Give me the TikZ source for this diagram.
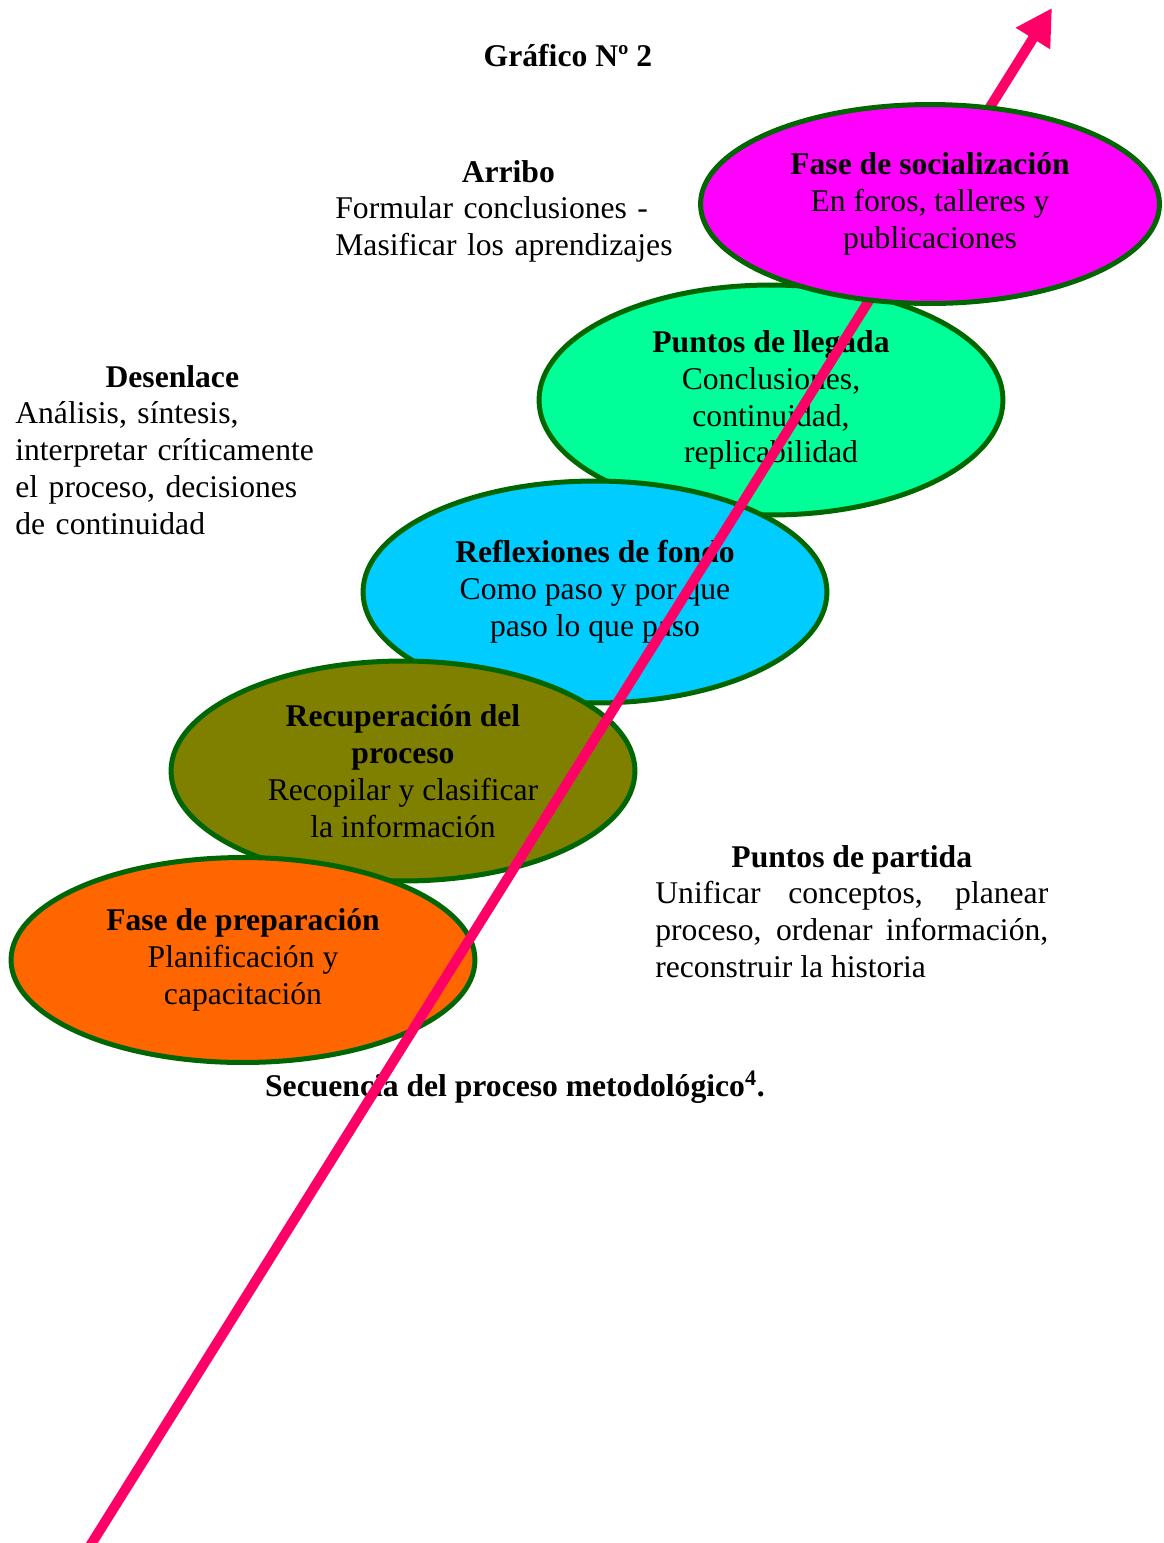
\documentclass[tikz,border=0pt]{standalone}
\usepackage{fontspec}
\setmainfont{Liberation Serif}
\usetikzlibrary{shapes.geometric,arrows.meta,positioning}
\definecolor{borde}{HTML}{006600}
\definecolor{rosa}{HTML}{FF0066}
\definecolor{fucsia}{HTML}{FF00FF}
\definecolor{menta}{HTML}{00FF99}
\definecolor{celeste}{HTML}{00CCFF}
\definecolor{oliva}{HTML}{808000}
\definecolor{naranja}{HTML}{FF6600}
\tikzset{
    fase/.style ={
        shape=ellipse,
        draw=borde,
        line width=0.1cm,
        inner sep=0pt,
        align=center,
        minimum width=9.28cm
    },
    nota/.style ={
        inner sep=0pt,
        anchor=base west,
        align=left
    },
    flecha/.style ={
        draw=rosa,
        line width=0.2cm,
        -{Triangle[length=0.72cm,width=0.76cm]}
    }
}

\begin{document}
\begin{tikzpicture}[x=0.02cm,y=-0.02cm,font=\fontsize{18}{21}\selectfont]
    \useasboundingbox (0,0) rectangle (1164,1543);
    \node[anchor=base,inner sep=0pt] (grafico) at (568,66) {\textbf{Gráfico Nº 2}};
    \node[nota,text width=6.92cm] (arribo) at (335,182)
        {{\centering\textbf{Arribo}\par}Formular conclusiones -\\Masificar los aprendizajes};
    \node[nota,text width=6.28cm] (desenlace) at (15,387)
        {{\centering\textbf{Desenlace}\par}Análisis, síntesis,\\interpretar críticamente\\el proceso, decisiones\\de continuidad};
    \node[nota,text width=7.86cm,align=justify] (partida) at (655,867)
        {{\centering\textbf{Puntos de partida}\par}Unificar conceptos, planear\linebreak proceso, ordenar información,\linebreak reconstruir la historia};
    \node[anchor=base,inner sep=0pt] (secuencia) at (515,1096)
        {\textbf{Secuencia del proceso metodológico\textsuperscript{4}.}};
    % fases, de atras hacia adelante
    \node[fase,fill=menta,minimum height=4.6cm] (llegada) at (771,400)
        {\textbf{Puntos de llegada}\\Conclusiones,\\continuidad,\\replicabilidad};
    \node[fase,fill=celeste,minimum height=4.44cm] (reflexiones) at (595,592)
        {\textbf{Reflexiones de fondo}\\Como paso y por que\\paso lo que paso};
    \node[fase,fill=oliva,minimum height=4.4cm] (recuperacion) at (403,771)
        {\textbf{Recuperación del}\\\textbf{proceso}\\Recopilar y clasificar\\la información};
    \node[fase,fill=naranja,minimum height=4.1cm] (preparacion) at (243,960)
        {\textbf{Fase de preparación}\\Planificación y\\capacitación};
    \coordinate (inicio) at (90,1546);
    \coordinate (fin) at (1052,8);
    \draw[flecha] (inicio) -- (fin);
    \node[fase,fill=fucsia,minimum width=9.18cm,minimum height=3.98cm] (socializacion) at (930,204)
        {\textbf{Fase de socialización}\\En foros, talleres y\\publicaciones};
\end{tikzpicture}
\end{document}
